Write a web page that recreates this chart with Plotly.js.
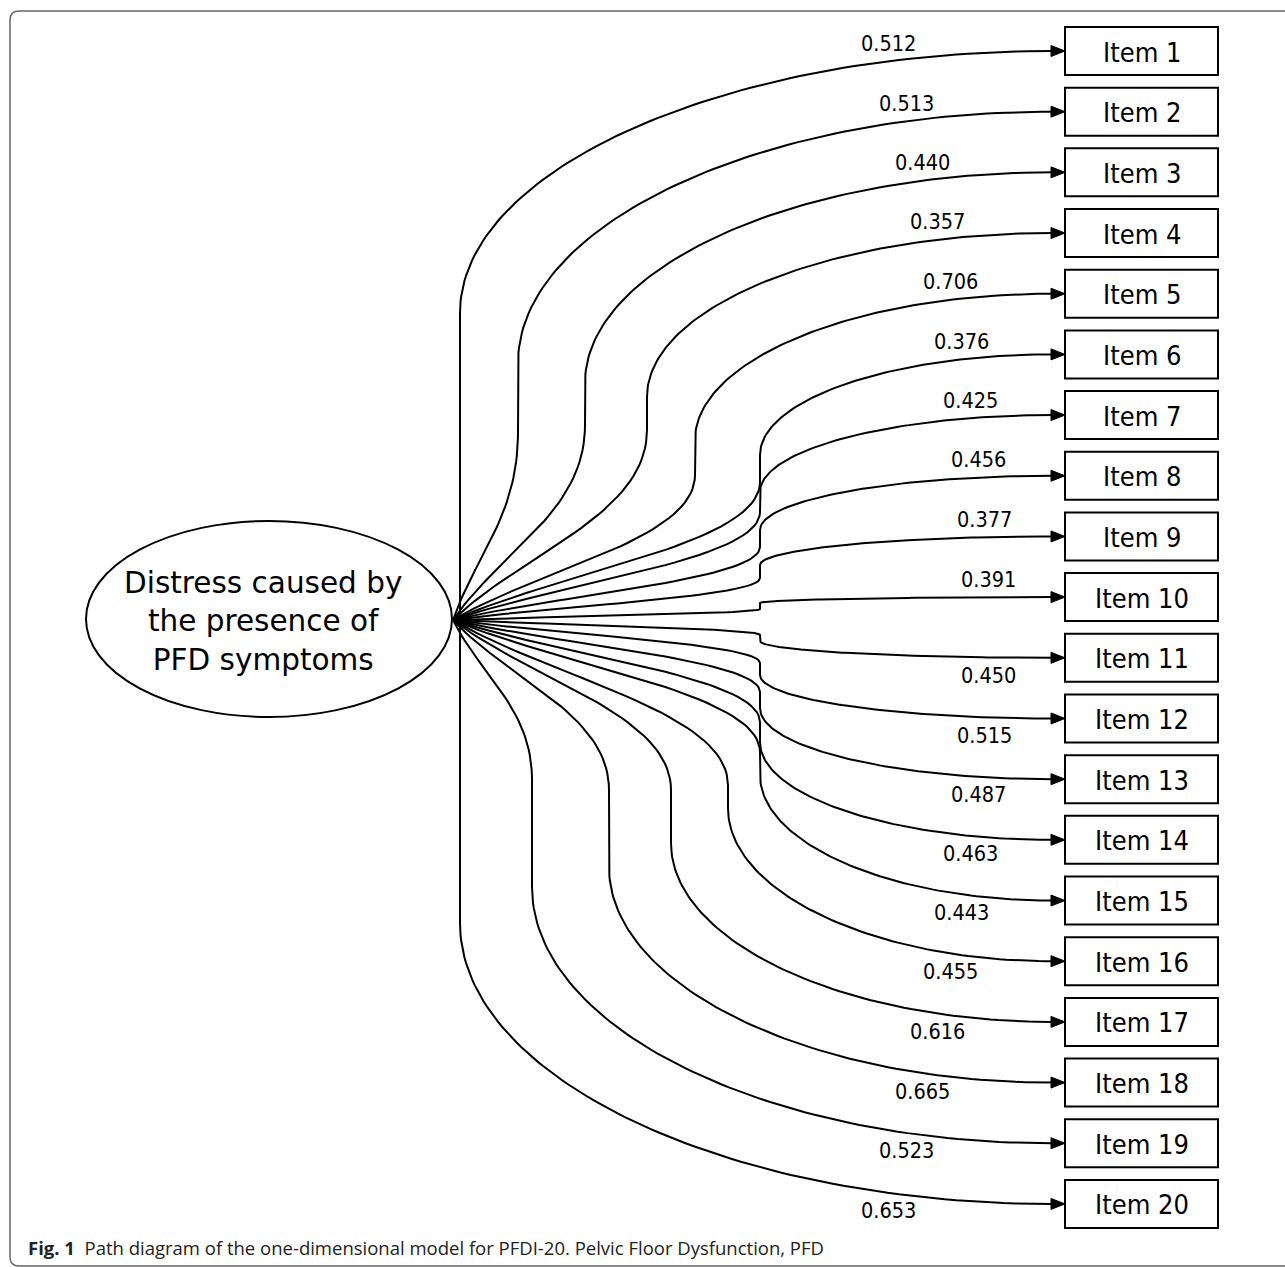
<!DOCTYPE html>
<html><head><meta charset="utf-8">
<script src="https://cdn.plot.ly/plotly-3.0.1.min.js"></script>
<style>html,body{margin:0;padding:0;background:#fff}</style>
</head><body><div id="chart" style="width:1285px;height:1267px"></div>
<script>
// ---- data ----
const items = ["Item 1","Item 2","Item 3","Item 4","Item 5","Item 6","Item 7","Item 8","Item 9","Item 10",
               "Item 11","Item 12","Item 13","Item 14","Item 15","Item 16","Item 17","Item 18","Item 19","Item 20"];
const loadings = ["0.512","0.513","0.440","0.357","0.706","0.376","0.425","0.456","0.377","0.391",
                  "0.450","0.515","0.487","0.463","0.443","0.455","0.616","0.665","0.523","0.653"];
const factorLabel = "Distress caused by<br>the presence of<br>PFD symptoms";
const captionBold = "Fig. 1";
const captionText = "Path diagram of the one-dimensional model for PFDI-20. Pelvic Floor Dysfunction, PFD";

// ---- geometry (layout only) ----
const W = 1285, H = 1267;
const boxX0 = 1065, boxX1 = 1218, boxTop0 = 27, boxStep = 60.68, boxH = 48;
const S = {x: 453, y: 620};
const bendX  = [460,518,585,647,695,760,760,760,760,760, 760,760,760,760,760,728,671,609,532,460];
const nearY  = [620,432,425,430,475,482,512,547,578,609, 635,663,692,722,752,785,790,790,780,620];
const farY   = [313,363,383,397,440,455,492,530,565,603, 641,675,708,742,775,808,843,867,887,923];
const FONT = 'DejaVu Sans Condensed';

function cubic(p0,p1,p2,p3,n){
  const xs=[],ys=[];
  for(let k=0;k<=n;k++){
    const t=k/n, u=1-t;
    xs.push(u*u*u*p0.x+3*u*u*t*p1.x+3*u*t*t*p2.x+t*t*t*p3.x);
    ys.push(u*u*u*p0.y+3*u*u*t*p1.y+3*u*t*t*p2.y+t*t*t*p3.y);
  }
  return {xs,ys};
}

const traces = [];
const annotations = [];
const shapes = [];
const arrowX = [], arrowY = [];

items.forEach((name,i)=>{
  const yc = boxTop0 + i*boxStep + boxH/2;
  const E = {x: boxX0-13, y: yc};
  const N = {x: bendX[i], y: nearY[i]};
  const F = {x: bendX[i], y: farY[i]};
  const a = cubic(S, {x:S.x+0.35*(N.x-S.x), y:S.y+0.35*(N.y-S.y)}, {x:N.x, y:N.y+0.45*(S.y-N.y)}, N, 40);
  const b = cubic(F, {x:F.x, y:F.y-0.55*(F.y-E.y)}, {x:E.x-0.55*(E.x-F.x), y:E.y}, E, 80);
  traces.push({type:'scatter', mode:'lines', x:a.xs.concat(b.xs), y:a.ys.concat(b.ys),
    line:{color:'#000', width:2}, hoverinfo:'skip', showlegend:false});
  // arrow head
  arrowX.push(boxX0-14, boxX0, boxX0-14, boxX0-14, null);
  arrowY.push(yc-5.5, yc, yc+5.5, yc-5.5, null);
  // box
  shapes.push({type:'rect', xref:'x', yref:'y', x0:boxX0, x1:boxX1, y0:yc-boxH/2, y1:yc+boxH/2,
    line:{color:'#000', width:2}, fillcolor:'#fff'});
  annotations.push({x:(boxX0+boxX1)/2, y:yc+1, xref:'x', yref:'y', text:name, showarrow:false,
    font:{family:FONT, size:27, color:'#000'}});
  // loading label
  const d = i<10 ? 9-i : i-10;
  const lx = 988 - 3*d - 0.9*d*d;
  let ly = yc;
  for(let k=0;k<b.xs.length-1;k++){
    if(b.xs[k]<=lx && b.xs[k+1]>=lx){
      const f=(lx-b.xs[k])/(b.xs[k+1]-b.xs[k]); ly=b.ys[k]+f*(b.ys[k+1]-b.ys[k]); break;
    }
  }
  annotations.push({x:lx, y: i<10 ? ly-18 : ly+18, xref:'x', yref:'y', text:loadings[i], showarrow:false,
    font:{family:FONT, size:21.5, color:'#000'}});
});
traces.push({type:'scatter', mode:'lines', x:arrowX, y:arrowY, fill:'toself', fillcolor:'#000',
  line:{color:'#000', width:1}, hoverinfo:'skip', showlegend:false});

// latent factor ellipse
shapes.push({type:'circle', xref:'x', yref:'y', x0:86, x1:452, y0:521, y1:717, line:{color:'#000', width:2}});
annotations.push({x:263, y:621, xref:'x', yref:'y', text:factorLabel, showarrow:false,
  font:{family:'DejaVu Sans', size:29.5, color:'#000'}});

// frame
shapes.push({type:'path', xref:'x', yref:'y',
  path:'M 1300 11 L 19 11 Q 10 11 10 20 L 10 1257 Q 10 1266 19 1266 L 1300 1266',
  line:{color:'#666', width:1.5}});

// caption
annotations.push({x:26, y:1247, xref:'x', yref:'y', xanchor:'left', yanchor:'middle', showarrow:false,
  text:'<b>'+captionBold+'</b>&nbsp; '+captionText,
  font:{family:'Open Sans', size:18.5, color:'#222'}});

const layout = {
  width:W, height:H, margin:{l:0,r:0,t:0,b:0},
  paper_bgcolor:'#fff', plot_bgcolor:'#fff',
  xaxis:{range:[0,W], visible:false, fixedrange:true},
  yaxis:{range:[H,0], visible:false, fixedrange:true},
  shapes, annotations, showlegend:false
};
Plotly.newPlot('chart', traces, layout, {staticPlot:true, displayModeBar:false});
</script></body></html>
